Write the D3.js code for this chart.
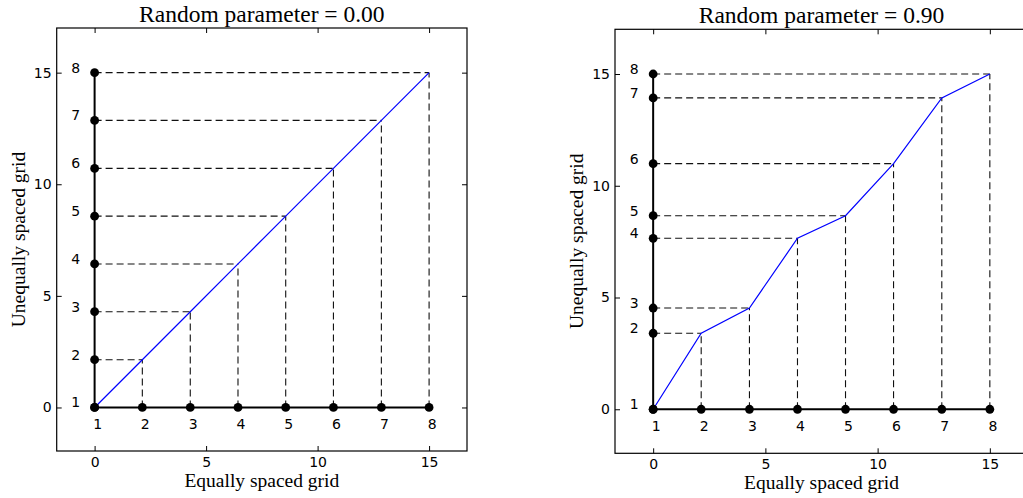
<!DOCTYPE html>
<html>
<head>
<meta charset="utf-8">
<script src="https://cdn.jsdelivr.net/npm/d3@7.9.0/dist/d3.min.js"></script>
<style>
  body { margin: 0; background: #fff; }
  svg { display: block; }
  .tick text { font-family: "DejaVu Sans", sans-serif; font-size: 14px; fill: #000; }
  .tick line { stroke: #000; }
</style>
</head>
<body>
<svg id="chart" width="1023" height="498"></svg>
<script>
// data
const pointIds = [1, 2, 3, 4, 5, 6, 7, 8];
const xGrid = [0, 2.14, 4.29, 6.43, 8.57, 10.71, 12.86, 15];
const yEqual = [0, 2.14, 4.29, 6.43, 8.57, 10.71, 12.86, 15];
const yRandom = [0, 3.40, 4.53, 7.65, 8.66, 10.99, 13.93, 15];
const titles = ["Random parameter = 0.00", "Random parameter = 0.90"];
const axisTicks = [0, 5, 10, 15];
const xLabel = "Equally spaced grid";
const yLabel = "Unequally spaced grid";

const svg = d3.select("#chart");
svg.append("rect").attr("width", 1023).attr("height", 498).attr("fill", "#fff");

const panels = [
  { ys: yEqual, title: titles[0], xr: [56.7, 467], yr: [451, 28], ydom: [-1.95, 17] },
  { ys: yRandom, title: titles[1], xr: [615, 1028], yr: [453.3, 29.3], ydom: [-1.97, 17] }
];

panels.forEach(p => {
  let x = d3.scaleLinear().domain([-1.7, 16.7]).range(p.xr);
  let y = d3.scaleLinear().domain(p.ydom).range(p.yr);
  let g = svg.append("g");
  let pts = xGrid.map((xv, i) => ({ x: xv, y: p.ys[i], id: pointIds[i] }));

  // dashed guide lines
  pts.slice(1).forEach(d => {
    g.append("line")
      .attr("x1", x(0)).attr("y1", y(d.y)).attr("x2", x(d.x)).attr("y2", y(d.y))
      .attr("stroke", "#111").attr("stroke-width", 1.1).attr("stroke-dasharray", "7,4");
    g.append("line")
      .attr("x1", x(d.x)).attr("y1", y(0)).attr("x2", x(d.x)).attr("y2", y(d.y))
      .attr("stroke", "#111").attr("stroke-width", 1.1).attr("stroke-dasharray", "7,4");
  });

  // mapping curve
  g.append("path")
    .datum(pts)
    .attr("d", d3.line().x(d => x(d.x)).y(d => y(d.y)))
    .attr("fill", "none").attr("stroke", "#0000ff").attr("stroke-width", 1.2);

  // both grids
  g.append("line").attr("x1", x(0)).attr("x2", x(0)).attr("y1", y(0)).attr("y2", y(15))
    .attr("stroke", "#000").attr("stroke-width", 2);
  g.append("line").attr("x1", x(0)).attr("x2", x(15)).attr("y1", y(0)).attr("y2", y(0))
    .attr("stroke", "#000").attr("stroke-width", 2);

  pts.forEach(d => {
    g.append("circle").attr("cx", x(0)).attr("cy", y(d.y)).attr("r", 4.4).attr("fill", "#000");
    g.append("circle").attr("cx", x(d.x)).attr("cy", y(0)).attr("r", 4.4).attr("fill", "#000");
    g.append("text").attr("x", x(0) - 19).attr("y", y(d.y) - 5)
      .attr("text-anchor", "middle").attr("dy", "0.35em")
      .attr("font-family", "DejaVu Sans").attr("font-size", 14).text(d.id);
    g.append("text").attr("x", x(d.x) + 3).attr("y", y(0) + 17)
      .attr("text-anchor", "middle").attr("dy", "0.35em")
      .attr("font-family", "DejaVu Sans").attr("font-size", 14).text(d.id);
  });

  // axes, ticks inside on all four sides
  let h = p.yr[0], t = p.yr[1];
  g.append("g").attr("transform", `translate(0,${h})`)
    .call(d3.axisBottom(x).tickValues(axisTicks).tickSize(-5).tickPadding(6))
    .call(a => a.select(".domain").remove());
  g.append("g").attr("transform", `translate(0,${t})`)
    .call(d3.axisTop(x).tickValues(axisTicks).tickSize(-5).tickFormat(""))
    .call(a => a.select(".domain").remove());
  g.append("g").attr("transform", `translate(${p.xr[0]},0)`)
    .call(d3.axisLeft(y).tickValues(axisTicks).tickSize(-5).tickPadding(5))
    .call(a => a.select(".domain").remove());
  g.append("g").attr("transform", `translate(${p.xr[1]},0)`)
    .call(d3.axisRight(y).tickValues(axisTicks).tickSize(-5).tickFormat(""))
    .call(a => a.select(".domain").remove());

  g.append("rect")
    .attr("x", p.xr[0]).attr("y", t)
    .attr("width", p.xr[1] - p.xr[0]).attr("height", h - t)
    .attr("fill", "none").attr("stroke", "#000").attr("stroke-width", 1.2);

  let cx = (p.xr[0] + p.xr[1]) / 2;
  g.append("text").attr("x", cx).attr("y", t - 6)
    .attr("text-anchor", "middle").attr("font-family", "Liberation Serif")
    .attr("font-size", 23.5).text(p.title);
  g.append("text").attr("x", cx).attr("y", h + 36)
    .attr("text-anchor", "middle").attr("font-family", "Liberation Serif")
    .attr("font-size", 19.5).text(xLabel);
  g.append("text")
    .attr("transform", `translate(${p.xr[0] - 32},${(h + t) / 2}) rotate(-90)`)
    .attr("text-anchor", "middle").attr("font-family", "Liberation Serif")
    .attr("font-size", 19.5).text(yLabel);
});
</script>
</body>
</html>
